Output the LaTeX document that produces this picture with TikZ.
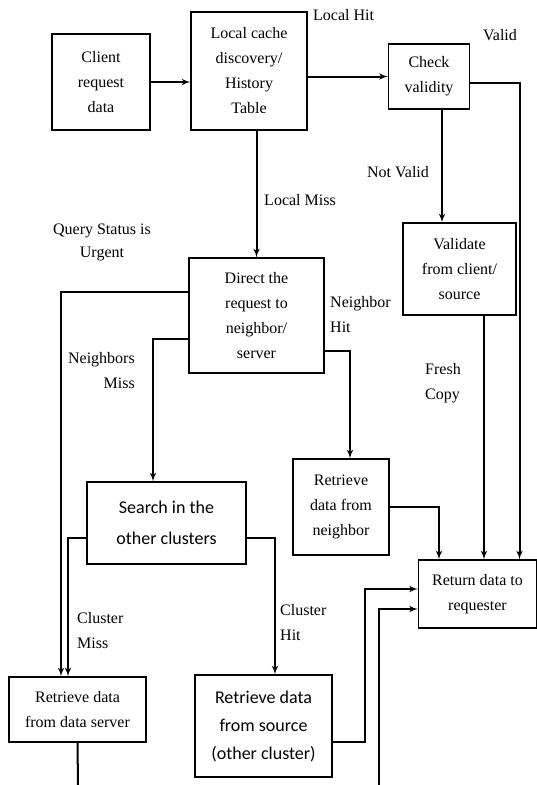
\documentclass[tikz,border=0pt]{standalone}
\usepackage{fontspec}
\setmainfont{Liberation Serif}
\newfontfamily\calfont{Carlito}
\usetikzlibrary{arrows}

\begin{document}
\begin{tikzpicture}[x=1pt,y=-1pt]

\tikzset{block/.style = {shape=rectangle,draw,line width=1.2pt,align=center,inner sep=0pt,font=\fontsize{16}{25}\selectfont}}
\tikzset{flow/.style = {->,> = latex',line width=2pt}}
\tikzset{lbl/.style = {inner sep=0pt,font=\fontsize{16}{25}\selectfont}}

\useasboundingbox (0,0) rectangle (537,785);

%boxes
\node[block, minimum width=98pt, minimum height=96pt] (client) at (101,82) {Client\\request\\data};
\node[block, minimum width=116pt, minimum height=118pt] (lookup) at (249,71) {Local cache\\discovery/\\History\\Table};
\node[block, minimum width=81pt, minimum height=65pt] (check) at (429,76.5) {Check\\validity};
\node[block, minimum width=113pt, minimum height=92pt] (validate) at (459.5,269) {Validate\\from client/\\source};
\node[block, minimum width=135pt, minimum height=115pt] (direct) at (256.5,315.5) {Direct the\\request to\\neighbor/\\server};
\node[block, minimum width=96pt, minimum height=96pt] (nbr) at (341,507) {Retrieve\\data from\\neighbor};
\node[block, minimum width=118pt, minimum height=68pt] (ret) at (477.5,594) {Return data to\\requester};
\node[block, minimum width=159pt, minimum height=82pt, font=\calfont\fontsize{18}{31}\selectfont] (search) at (166.5,523) {Search in the\\other clusters};
\node[block, minimum width=137pt, minimum height=65pt] (server) at (77.5,709.5) {Retrieve data\\from data server};
\node[block, minimum width=137pt, minimum height=102pt, font=\calfont\fontsize{18}{28}\selectfont] (source) at (263.5,726) {Retrieve data\\from source\\(other cluster)};

\coordinate (out1) at (78,785);
\coordinate (in2) at (379,785);

%connectors
\draw[flow] (client.east) -- (client.east -| lookup.west);
\draw[flow] (check.west -| lookup.east) -- (check.west);
\draw[flow] (direct.north |- lookup.south) -- (direct.north);
\draw[flow] ([xshift=13pt]check.south) -- ([xshift=13pt]check.south |- validate.north);
\draw[flow] ([yshift=-6.5pt]check.east) -| ([xshift=42pt]ret.north);
\draw[flow] ([xshift=24.5pt]validate.south) -- ([xshift=24.5pt]validate.south |- ret.north);
\draw[flow] (nbr.east) -| ([xshift=-38.5pt]ret.north);
\draw[flow] ([yshift=23.5pt]direct.west) -| ([xshift=-16.5pt]server.north);
\draw[flow] ([yshift=-23.5pt]direct.west) -| ([xshift=-13.5pt]search.north);
\draw[flow] ([yshift=-35.5pt]direct.east) -| ([xshift=9pt]nbr.north);
\draw[flow] ([yshift=-15pt]search.west) -| ([xshift=-9.5pt]server.north);
\draw[flow] ([yshift=-15pt]search.east) -| ([xshift=11.5pt]source.north);
\draw[flow] ([yshift=-16pt]source.east) -- ++(32,0) |- ([yshift=5pt]ret.west);
\draw[flow] (in2) |- ([yshift=-15pt]ret.west);
\draw[line width=2pt] (server.south) -- (out1);

%labels
\node[lbl, anchor=west] (lhit) at (313,15) {Local Hit};
\node[lbl] (valid) at (500,35) {Valid};
\node[lbl] (nvalid) at (398,172) {Not Valid};
\node[lbl] (lmiss) at (300,200) {Local Miss};
\node[lbl, align=center, font=\fontsize{16}{23}\selectfont] (urgent) at (102,242) {Query Status is\\Urgent};
\node[lbl, anchor=west, align=left] (nhit) at (330,315) {Neighbor\\Hit};
\node[lbl, anchor=east, align=right] (nmiss) at (135,371) {Neighbors\\Miss};
\node[lbl, anchor=west, align=left] (fresh) at (425,383) {Fresh\\Copy};
\node[lbl, anchor=west, align=left] (cmiss) at (77,631) {Cluster\\Miss};
\node[lbl, anchor=west, align=left] (chit) at (280,623) {Cluster\\Hit};

\end{tikzpicture}
\end{document}
